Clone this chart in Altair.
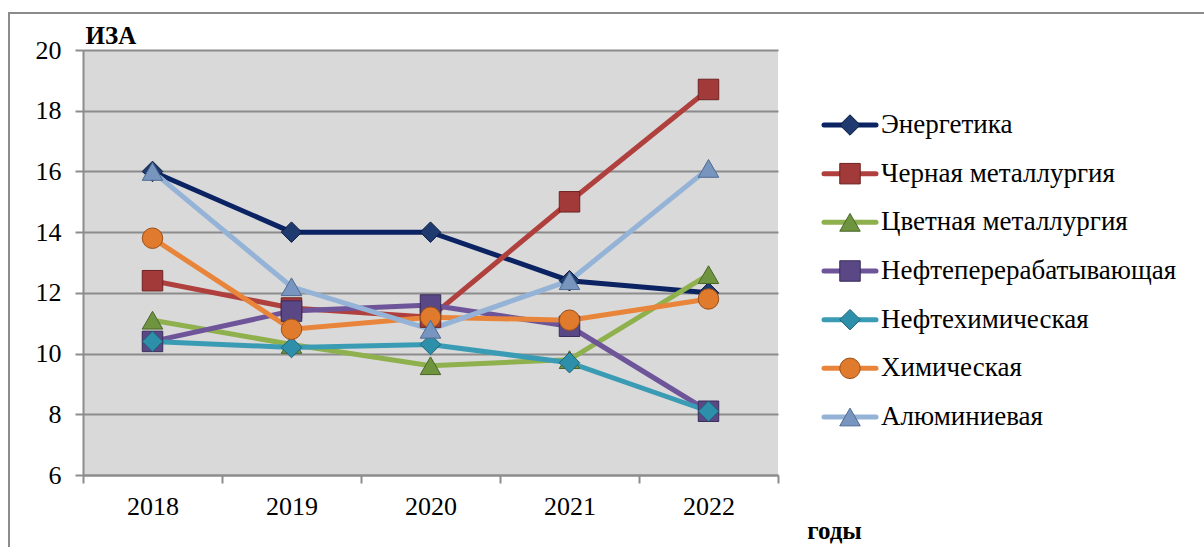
import altair as alt
import pandas as pd

years = ["2018", "2019", "2020", "2021", "2022"]
names = ["Энергетика", "Черная металлургия", "Цветная металлургия",
         "Нефтеперерабатывающая", "Нефтехимическая", "Химическая", "Алюминиевая"]
energy = [16.0, 14.0, 14.0, 12.4, 12.0]
ferrous = [12.4, 11.5, 11.2, 15.0, 18.7]
nonferrous = [11.1, 10.3, 9.6, 9.8, 12.6]
refining = [10.4, 11.4, 11.6, 10.9, 8.1]
petrochem = [10.4, 10.2, 10.3, 9.7, 8.1]
chemical = [13.8, 10.8, 11.2, 11.1, 11.8]
aluminium = [16.0, 12.2, 10.8, 12.4, 16.1]
series_values = [energy, ferrous, nonferrous, refining, petrochem, chemical, aluminium]

line_colors = ["#0B2363", "#B0403D", "#8EB04D", "#6E559A", "#3A9CB4", "#E8853A", "#95B3D7"]
marker_colors = ["#1E3A6E", "#A23A3A", "#6F9440", "#5A4786", "#2E8FAA", "#E07B2E", "#7895BF"]
marker_strokes = ["#0A1A40", "#6E2322", "#4A6528", "#3A2D5A", "#1D6478", "#9A4F18", "#4E6A91"]
shapes = ["diamond", "square", "triangle-up", "square", "diamond", "circle", "triangle-up"]

rows = []
for name, vals in zip(names, series_values):
    for yr, v in zip(years, vals):
        rows.append({"year": yr, "value": v, "series": name})
df = pd.DataFrame(rows)
df_leg = pd.DataFrame({"series": names})

FONT = "Liberation Serif"
GRAY = "#8C8C8C"

color_scale = alt.Scale(domain=names, range=line_colors)
fill_scale = alt.Scale(domain=names, range=marker_colors)
stroke_scale = alt.Scale(domain=names, range=marker_strokes)
shape_scale = alt.Scale(domain=names, range=shapes)
y_scale = alt.Scale(domain=[6, 20], nice=False, zero=False)

x_enc = alt.X("year:O", sort=years,
              scale=alt.Scale(paddingInner=0, paddingOuter=0),
              axis=alt.Axis(title="годы", tickBand="extent", labelAngle=0,
                            titleX=751, titleY=63, titleAlign="center",
                            titleBaseline="alphabetic", titleFontWeight="bold",
                            titleFont=FONT, titleFontSize=25, titleColor="black",
                            labelFont=FONT, labelPadding=10))
y_enc = alt.Y("value:Q", scale=y_scale,
              axis=alt.Axis(title="ИЗА", values=[6, 8, 10, 12, 14, 16, 18, 20],
                            titleAngle=0, titleX=2, titleY=-7, titleAlign="left",
                            titleBaseline="alphabetic", titleFontWeight="bold",
                            titleFont=FONT, titleFontSize=25, titleColor="black",
                            labelFont=FONT,
                            grid=True, gridColor=GRAY, gridWidth=2,
                            labelPadding=14))

lines = alt.Chart(df).mark_line(strokeWidth=5).encode(
    x=x_enc, y=y_enc,
    color=alt.Color("series:N", scale=color_scale, legend=None),
    detail="series:N",
)

points = alt.Chart(df).mark_point(filled=True, size=420, opacity=1, strokeWidth=1).encode(
    x=alt.X("year:O", sort=years), y=alt.Y("value:Q", scale=y_scale),
    fill=alt.Fill("series:N", scale=fill_scale, legend=None),
    shape=alt.Shape("series:N", scale=shape_scale, legend=None),
    stroke=alt.Stroke("series:N", scale=stroke_scale, legend=None),
)

data_layer = alt.layer(lines, points)

# legend built from the same scales
leg_y = alt.Y("series:N", sort=names,
              scale=alt.Scale(type="point", domain=names, range=[75, 367], padding=0),
              axis=None)
leg_line = alt.Chart(df_leg).mark_rule(strokeWidth=5, strokeCap="round").encode(
    x=alt.value(741), x2=alt.value(793), y=leg_y,
    color=alt.Color("series:N", scale=color_scale, legend=None),
)
leg_pt = alt.Chart(df_leg).mark_point(filled=True, size=420, opacity=1, strokeWidth=1).encode(
    x=alt.value(767), y=leg_y,
    fill=alt.Fill("series:N", scale=fill_scale, legend=None),
    shape=alt.Shape("series:N", scale=shape_scale, legend=None),
    stroke=alt.Stroke("series:N", scale=stroke_scale, legend=None),
)
leg_txt = alt.Chart(df_leg).mark_text(align="left", baseline="middle", font=FONT,
                                      fontSize=27, color="black").encode(
    x=alt.value(798), y=leg_y, text="series:N",
)

border = alt.Chart(pd.DataFrame({"a": [0]})).mark_rect(
    fill=None, stroke=GRAY, strokeWidth=2, clip=False
).encode(x=alt.value(-74), x2=alt.value(1140), y=alt.value(-37), y2=alt.value(520))

chart = alt.layer(border, data_layer, leg_line, leg_pt, leg_txt).resolve_scale(
    y="independent"
).properties(
    width=695, height=425,
    autosize=alt.AutoSizeParams(type="none"),
    padding={"left": 83, "top": 50, "right": 426, "bottom": 72},
    background="white",
).configure(font=FONT).configure_view(fill="#D9D9D9", stroke=None).configure_axis(
    labelFont=FONT, labelFontSize=26, labelColor="black", titleFont=FONT,
    domainColor=GRAY, domainWidth=2, tickColor=GRAY, tickWidth=2, tickSize=8,
).configure_text(font=FONT)

chart.save("out.html", embed_options={"renderer": "svg", "actions": False})
